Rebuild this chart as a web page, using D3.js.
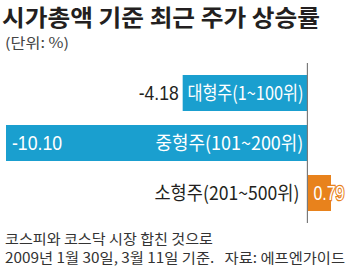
<!DOCTYPE html>
<html>
<head>
<meta charset="utf-8">
<script src="https://cdn.jsdelivr.net/npm/d3@7"></script>
<style>
  body { margin: 0; background: #fff; }
  svg { display: block; }
</style>
</head>
<body>
<div id="chart"></div>
<script>
// chart data
const categories = ["대형주(1~100위)", "중형주(101~200위)", "소형주(201~500위)"];
const values = [-4.18, -10.10, 0.79];
const valueLabels = ["-4.18", "-10.10", "0.79"];
const title = "시가총액 기준 최근 주가 상승률";
const unit = "(단위: %)";
const notes = ["코스피와 코스닥 시장 합친 것으로", "2009년 1월 30일, 3월 11일 기준.   자료: 에프엔가이드"];

const width = 350, height = 270;
const KR = "'Noto Sans CJK KR', 'Noto Sans', sans-serif";
const NUM = "'Liberation Sans', Arial, sans-serif";
const BLUE = "#1a9fcf", ORANGE = "#e8821c";

const svg = d3.select("#chart").append("svg")
    .attr("width", width).attr("height", height);

// title + unit
svg.append("text")
    .attr("x", 2).attr("y", 26)
    .attr("font-family", KR).attr("font-weight", 700).attr("font-size", 23)
    .attr("fill", "#231f20")
    .attr("textLength", 318).attr("lengthAdjust", "spacingAndGlyphs")
    .text(title);

svg.append("text")
    .attr("x", 5).attr("y", 48)
    .attr("font-family", KR).attr("font-size", 14)
    .attr("fill", "#444")
    .attr("textLength", 64).attr("lengthAdjust", "spacingAndGlyphs")
    .text(unit);

// scales
var x = d3.scaleLinear()
    .domain([d3.min(values), d3.max(values)])
    .range([6, 331]);

var y = d3.scaleBand()
    .domain(categories)
    .range([68, 218])
    .paddingInner(0.28)
    .paddingOuter(0.14);

// bars
svg.selectAll("rect.bar")
    .data(values)
    .enter().append("rect")
    .attr("class", "bar")
    .attr("x", d => x(Math.min(0, d)))
    .attr("y", (d, i) => y(categories[i]))
    .attr("width", d => Math.abs(x(d) - x(0)))
    .attr("height", y.bandwidth())
    .attr("fill", d => d < 0 ? BLUE : ORANGE);

// zero line
svg.append("line")
    .attr("x1", x(0)).attr("x2", x(0))
    .attr("y1", 63).attr("y2", 223)
    .attr("stroke", "#7a7a7a").attr("stroke-width", 1.2);

// category labels (inside blue bars, outside for the positive one)
var catLen = [116, 148, 145];
svg.selectAll("text.cat")
    .data(values)
    .enter().append("text")
    .attr("class", "cat")
    .attr("x", d => x(0) - (d < 0 ? 4 : 8))
    .attr("y", (d, i) => y(categories[i]) + y.bandwidth() / 2 + 7)
    .attr("text-anchor", "end")
    .attr("font-family", KR).attr("font-size", 19)
    .attr("fill", d => d < 0 ? "#fff" : "#231f20")
    .attr("textLength", (d, i) => catLen[i]).attr("lengthAdjust", "spacingAndGlyphs")
    .text((d, i) => categories[i]);

// value labels
var valLen = [40, 50, 31];
var wide = d => x(0) - x(d) > 250;
svg.selectAll("text.val")
    .data(values)
    .enter().append("text")
    .attr("class", "val")
    .attr("x", d => {
        if (d >= 0) return x(0) + 6;
        if (wide(d)) return x(d) + 6;
        return x(d) - 4;
    })
    .attr("y", (d, i) => y(categories[i]) + y.bandwidth() / 2 + 7)
    .attr("text-anchor", d => (d < 0 && !wide(d)) ? "end" : "start")
    .attr("font-family", NUM).attr("font-size", 20)
    .attr("fill", d => (d < 0 && !wide(d)) ? "#231f20" : "#fff")
    .attr("stroke", d => d >= 0 ? ORANGE : "none")
    .attr("stroke-width", 2.5)
    .attr("paint-order", "stroke")
    .attr("textLength", (d, i) => valLen[i]).attr("lengthAdjust", "spacingAndGlyphs")
    .text((d, i) => valueLabels[i]);

// footnotes
svg.selectAll("text.note")
    .data(notes)
    .enter().append("text")
    .attr("class", "note")
    .attr("x", 5)
    .attr("y", (d, i) => 244 + i * 19)
    .attr("font-family", KR).attr("font-size", 14)
    .attr("fill", "#333")
    .style("white-space", "pre")
    .attr("textLength", (d, i) => i == 0 ? 208 : 340).attr("lengthAdjust", "spacingAndGlyphs")
    .text(d => d);
</script>
</body>
</html>
